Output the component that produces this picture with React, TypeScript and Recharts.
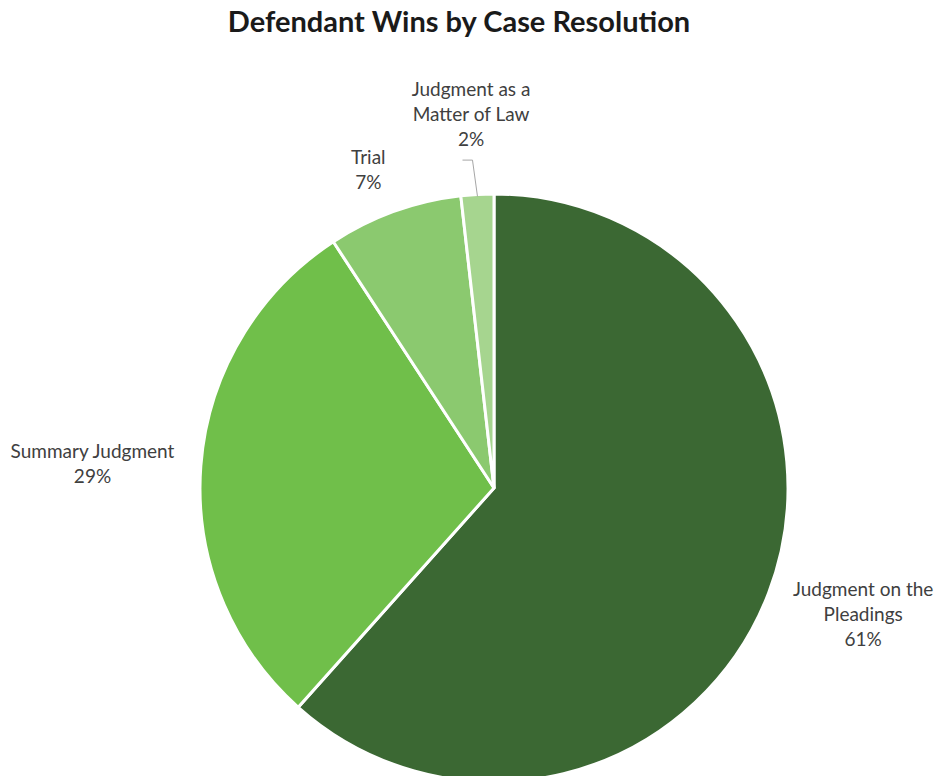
import { PieChart, Pie, Cell } from "recharts"

const categories = [
    "Judgment on the Pleadings",
    "Summary Judgment",
    "Trial",
    "Judgment as a Matter of Law",
]
const shares = [61.6, 29.2, 7.4, 1.8]
const labelLines = [
    ["Judgment on the", "Pleadings"],
    ["Summary Judgment"],
    ["Trial"],
    ["Judgment as a", "Matter of Law"],
]
const percentLabels = ["61%", "29%", "7%", "2%"]

const COLORS = ["#3b6833", "#70bf4a", "#8bc96f", "#a6d58f"]

const data = categories.map((name, i) => ({ name, value: shares[i] }))

const FONT = "Lato, 'Open Sans', sans-serif"
const TEXT = "#404040"
const LABEL_SIZE = 19
const LINE_H = 25
const RADIAN = Math.PI / 180

let ctx: CanvasRenderingContext2D | null = null
function textWidth(s: string) {
    if (!ctx) ctx = document.createElement("canvas").getContext("2d")
    if (!ctx) return s.length * 9.5
    ctx.font = `${LABEL_SIZE}px ${FONT}`
    return ctx.measureText(s).width
}

function renderLabel(props: any) {
    const { cx, cy, midAngle, outerRadius, index } = props
    const lines = [...labelLines[index], percentLabels[index]]
    const small = shares[index] < 3
    const dx = Math.cos(-midAngle * RADIAN)
    const dy = Math.sin(-midAngle * RADIAN)
    const r = outerRadius + (small ? 52 : 26)
    const x = cx + r * dx
    const y = cy + r * dy
    const w = Math.max(...lines.map(textWidth))
    const h = lines.length * LINE_H
    const bx = Math.abs(dx) > 0.3 ? x + (Math.sign(dx) * w) / 2 : x + (dx * w) / 2
    const by = y + dy * h * 0.4 + 3
    const top = by - h / 2
    let leader = null
    if (small) {
        const sx = cx + (outerRadius - 2) * dx
        const sy = cy + (outerRadius - 2) * dy
        const ey = by + h / 2 + 7
        leader = (
            <polyline
                points={`${sx},${sy} ${sx - 5},${ey} ${sx - 15},${ey}`}
                fill="none"
                stroke="#a6a6a6"
                strokeWidth={1}
            />
        )
    }
    return (
        <g>
            {leader}
            <text
                x={bx}
                y={top}
                textAnchor="middle"
                fill={TEXT}
                fontSize={LABEL_SIZE}
                fontFamily={FONT}
            >
                {lines.map((l, i) => (
                    <tspan key={i} x={bx} dy={i === 0 ? LINE_H * 0.72 : LINE_H}>
                        {l}
                    </tspan>
                ))}
            </text>
        </g>
    )
}

export default function App() {
    return (
        <div style={{ width: 935, height: 776, background: "#fff", position: "relative" }}>
            <style>{"body{margin:0}"}</style>
            <div
                style={{
                    position: "absolute",
                    left: 0,
                    width: 918,
                    top: 3,
                    textAlign: "center",
                    fontFamily: FONT,
                    fontWeight: 700,
                    fontSize: 29,
                    color: "#1a1a1a",
                }}
            >
                Defendant Wins by Case Resolution
            </div>
            <PieChart width={935} height={776} margin={{ top: 0, right: 0, bottom: 0, left: 0 }}>
                <Pie
                    data={data}
                    dataKey="value"
                    nameKey="name"
                    cx={494}
                    cy={488}
                    outerRadius={294}
                    startAngle={90}
                    endAngle={-270}
                    stroke="#ffffff"
                    strokeWidth={3}
                    label={renderLabel}
                    labelLine={false}
                    isAnimationActive={false}
                >
                    {data.map((_, i) => (
                        <Cell key={`cell-${i}`} fill={COLORS[i]} />
                    ))}
                </Pie>
            </PieChart>
        </div>
    )
}
